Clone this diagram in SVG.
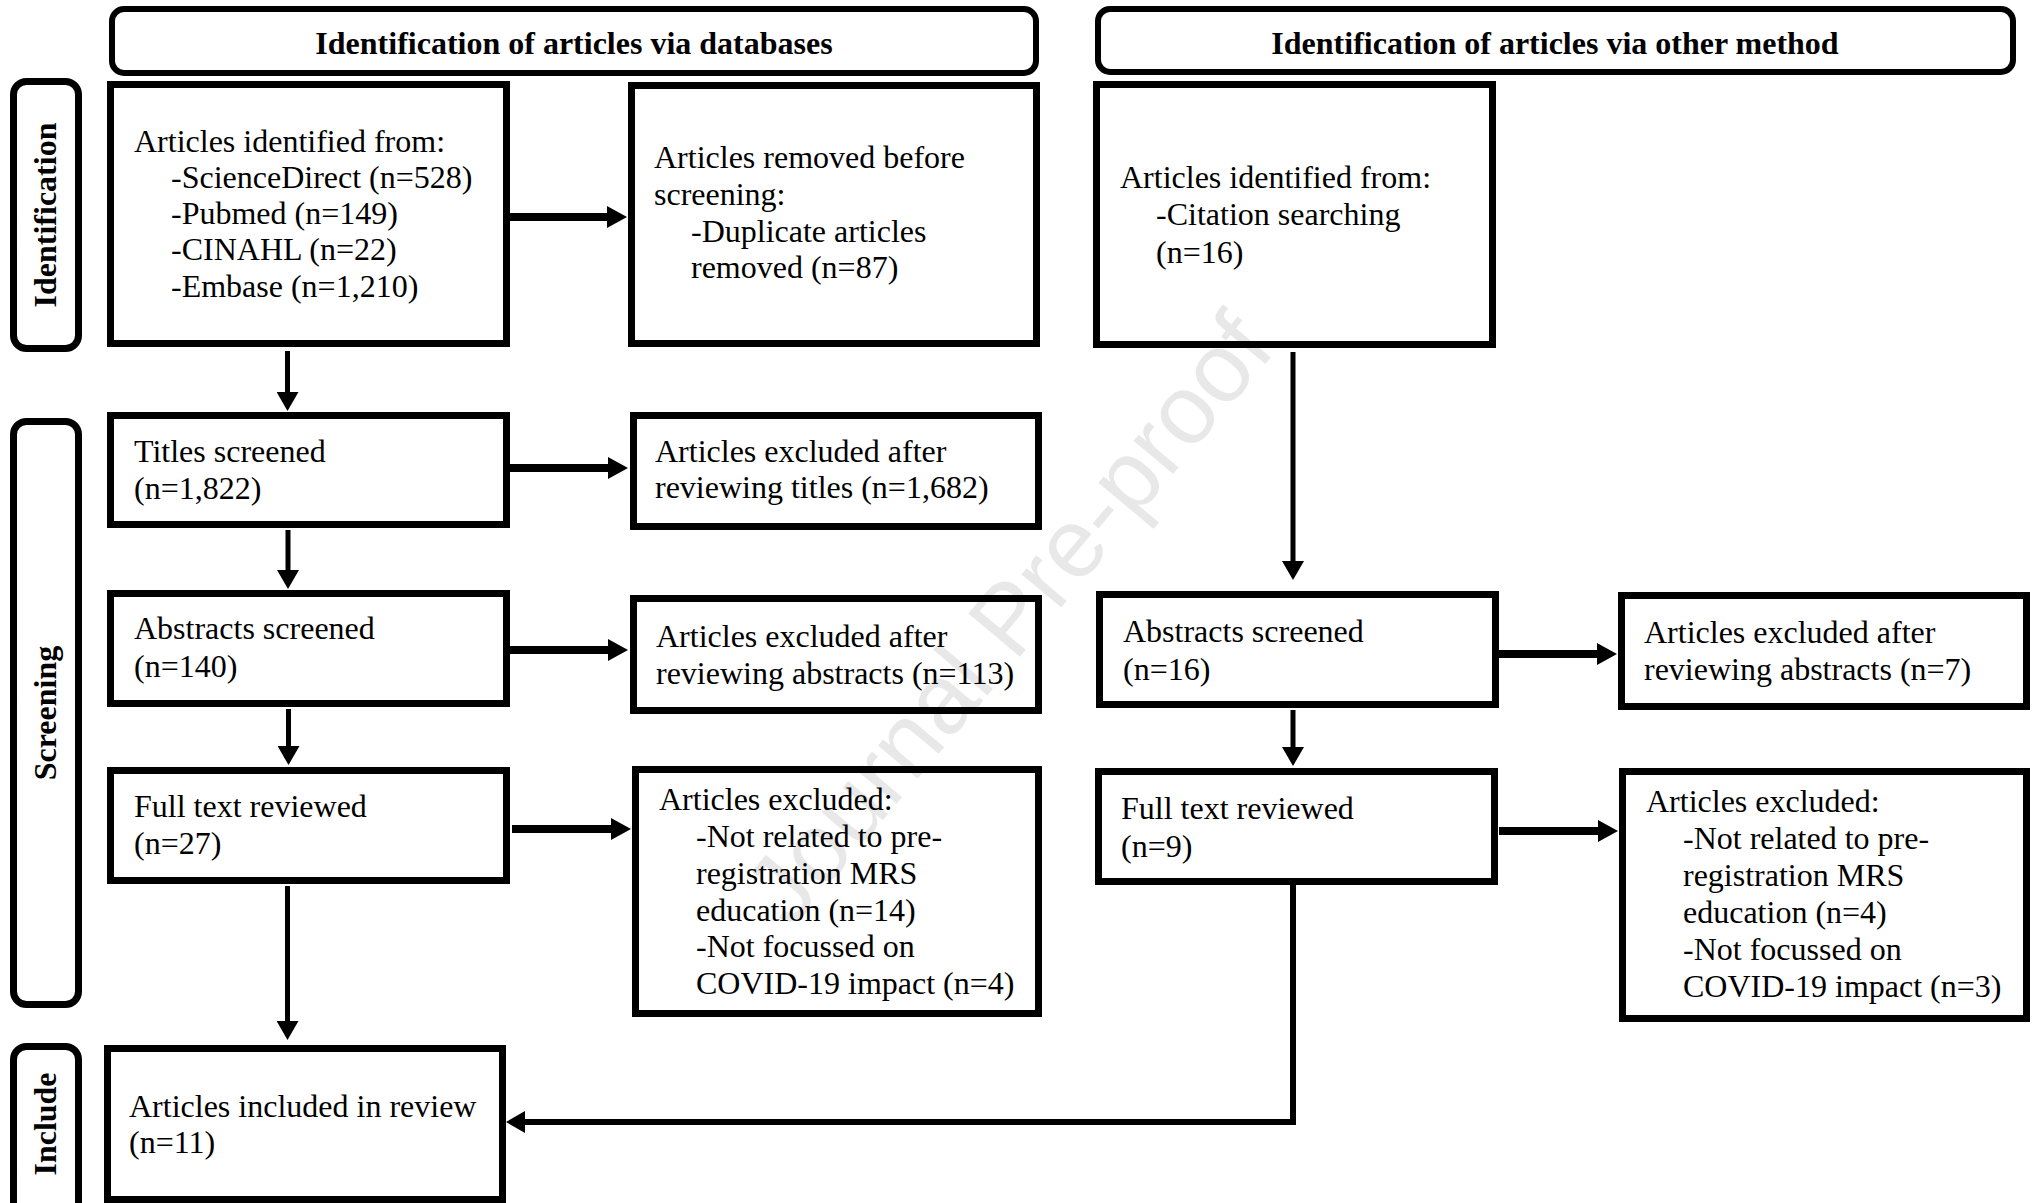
<svg xmlns="http://www.w3.org/2000/svg" width="2035" height="1203" viewBox="0 0 2035 1203">
<defs>
<style>
.box{fill:#fff;stroke:#000;stroke-width:7}
.hdr{fill:#fff;stroke:#000;stroke-width:6}
.lbl{fill:#fff;stroke:#000;stroke-width:7}
.t{font-family:"Liberation Serif","Times New Roman",serif;font-size:32px;fill:#000}
.b{font-family:"Liberation Serif","Times New Roman",serif;font-size:32px;font-weight:bold;fill:#000}
.ha{fill:none;stroke:#000;stroke-width:8}
.va{fill:none;stroke:#000;stroke-width:5}
.ea{fill:none;stroke:#000;stroke-width:6}
.wm{font-family:"Liberation Sans",Arial,sans-serif;font-size:98px;fill:#000;fill-opacity:0.09}
</style>
<marker id="ah" markerUnits="userSpaceOnUse" markerWidth="20" markerHeight="22" refX="0" refY="11" orient="auto" viewBox="0 0 20 22"><path d="M0,0 L20,11 L0,22 z" fill="#000"/></marker>
<marker id="av" markerUnits="userSpaceOnUse" markerWidth="19" markerHeight="22" refX="0" refY="11" orient="auto" viewBox="0 0 19 22"><path d="M0,0 L19,11 L0,22 z" fill="#000"/></marker>
</defs>
<rect width="2035" height="1203" fill="#fff"/>

<g id="header-databases">
<rect class="hdr" x="112" y="9" width="924" height="64" rx="12"/>
<text class="b" x="574" y="54" text-anchor="middle">Identification of articles via databases</text>
</g>
<g id="header-other">
<rect class="hdr" x="1098" y="9" width="915" height="63" rx="12"/>
<text class="b" x="1555" y="54" text-anchor="middle">Identification of articles via other method</text>
</g>

<g id="label-identification">
<rect class="lbl" x="13.5" y="81.5" width="65" height="267" rx="13"/>
<text class="b" transform="translate(56,215) rotate(-90)" text-anchor="middle">Identification</text>
</g>
<g id="label-screening">
<rect class="lbl" x="13.5" y="421.5" width="65" height="583" rx="13"/>
<text class="b" transform="translate(56,713) rotate(-90)" text-anchor="middle">Screening</text>
</g>
<g id="label-include">
<rect class="lbl" x="13.5" y="1046.5" width="65" height="170" rx="13"/>
<text class="b" transform="translate(56,1124) rotate(-90)" text-anchor="middle">Include</text>
</g>

<g id="db-identified">
<rect class="box" x="110.5" y="84.5" width="396" height="259"/>
<text class="t"><tspan x="134" y="152">Articles identified from:</tspan><tspan x="171" y="188">-ScienceDirect (n=528)</tspan><tspan x="171" y="224">-Pubmed (n=149)</tspan><tspan x="171" y="260">-CINAHL (n=22)</tspan><tspan x="171" y="297">-Embase (n=1,210)</tspan></text>
</g>
<g id="db-removed">
<rect class="box" x="631.5" y="85.5" width="405" height="258"/>
<text class="t"><tspan x="654" y="168">Articles removed before</tspan><tspan x="654" y="205">screening:</tspan><tspan x="691" y="242">-Duplicate articles</tspan><tspan x="691" y="278">removed (n=87)</tspan></text>
</g>
<g id="other-identified">
<rect class="box" x="1096.5" y="84.5" width="396" height="260"/>
<text class="t"><tspan x="1120" y="188">Articles identified from:</tspan><tspan x="1156" y="225">-Citation searching</tspan><tspan x="1156" y="263">(n=16)</tspan></text>
</g>
<g id="db-titles">
<rect class="box" x="110.5" y="415.5" width="396" height="109"/>
<text class="t"><tspan x="134" y="462">Titles screened</tspan><tspan x="134" y="499">(n=1,822)</tspan></text>
</g>
<g id="db-titles-excluded">
<rect class="box" x="633.5" y="415.5" width="405" height="111"/>
<text class="t"><tspan x="655" y="462">Articles excluded after</tspan><tspan x="655" y="498">reviewing titles (n=1,682)</tspan></text>
</g>
<g id="db-abstracts">
<rect class="box" x="110.5" y="593.5" width="396" height="110"/>
<text class="t"><tspan x="134" y="639">Abstracts screened</tspan><tspan x="134" y="677">(n=140)</tspan></text>
</g>
<g id="db-abstracts-excluded">
<rect class="box" x="633.5" y="598.5" width="405" height="112"/>
<text class="t"><tspan x="656" y="647">Articles excluded after</tspan><tspan x="656" y="684">reviewing abstracts (n=113)</tspan></text>
</g>
<g id="db-fulltext">
<rect class="box" x="110.5" y="770.5" width="396" height="110"/>
<text class="t"><tspan x="134" y="817">Full text reviewed</tspan><tspan x="134" y="854">(n=27)</tspan></text>
</g>
<g id="db-fulltext-excluded">
<rect class="box" x="635.5" y="769.5" width="403" height="244"/>
<text class="t"><tspan x="659" y="810">Articles excluded:</tspan><tspan x="696" y="847">-Not related to pre-</tspan><tspan x="696" y="884">registration MRS</tspan><tspan x="696" y="921">education (n=14)</tspan><tspan x="696" y="957">-Not focussed on</tspan><tspan x="696" y="994">COVID-19 impact (n=4)</tspan></text>
</g>
<g id="included">
<rect class="box" x="107.5" y="1048.5" width="395" height="151"/>
<text class="t"><tspan x="129" y="1117">Articles included in review</tspan><tspan x="129" y="1153">(n=11)</tspan></text>
</g>
<g id="other-abstracts">
<rect class="box" x="1099.5" y="594.5" width="396" height="110"/>
<text class="t"><tspan x="1123" y="642">Abstracts screened</tspan><tspan x="1123" y="680">(n=16)</tspan></text>
</g>
<g id="other-abstracts-excluded">
<rect class="box" x="1621.5" y="595.5" width="405" height="111"/>
<text class="t"><tspan x="1644" y="643">Articles excluded after</tspan><tspan x="1644" y="680">reviewing abstracts (n=7)</tspan></text>
</g>
<g id="other-fulltext">
<rect class="box" x="1098.5" y="771.5" width="396" height="110"/>
<text class="t"><tspan x="1121" y="819">Full text reviewed</tspan><tspan x="1121" y="857">(n=9)</tspan></text>
</g>
<g id="other-fulltext-excluded">
<rect class="box" x="1622.5" y="771.5" width="404" height="247"/>
<text class="t"><tspan x="1646" y="812">Articles excluded:</tspan><tspan x="1683" y="849">-Not related to pre-</tspan><tspan x="1683" y="886">registration MRS</tspan><tspan x="1683" y="923">education (n=4)</tspan><tspan x="1683" y="960">-Not focussed on</tspan><tspan x="1683" y="997">COVID-19 impact (n=3)</tspan></text>
</g>

<g id="connectors">
<path class="ha" d="M510,217 H607" marker-end="url(#ah)"/>
<path class="ha" d="M510,468 H608" marker-end="url(#ah)"/>
<path class="ha" d="M510,650 H608" marker-end="url(#ah)"/>
<path class="ha" d="M512,829 H611" marker-end="url(#ah)"/>
<path class="ha" d="M1499,654 H1597" marker-end="url(#ah)"/>
<path class="ha" d="M1499,831 H1598" marker-end="url(#ah)"/>
<path class="va" d="M287.5,351 V392" marker-end="url(#av)"/>
<path class="va" d="M288,530 V570" marker-end="url(#av)"/>
<path class="va" d="M288.5,709 V746" marker-end="url(#av)"/>
<path class="va" d="M287.5,886 V1021" marker-end="url(#av)"/>
<path class="va" d="M1293,352 V561" marker-end="url(#av)"/>
<path class="va" d="M1293,710 V747" marker-end="url(#av)"/>
<path class="ea" d="M1293,885 V1122 H525" marker-end="url(#av)"/>
</g>

<text class="wm" transform="translate(1034,640) rotate(-50)" text-anchor="middle">Journal Pre-proof</text>
</svg>
